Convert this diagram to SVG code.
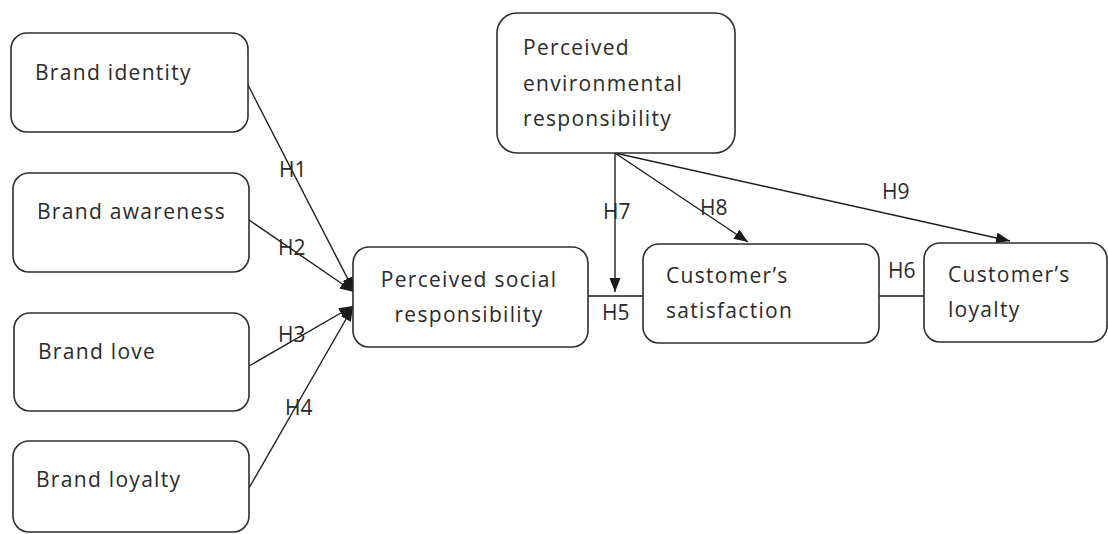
<svg xmlns="http://www.w3.org/2000/svg" width="1108" height="534" viewBox="0 0 1108 534">
<defs>
<marker id="arr" markerUnits="userSpaceOnUse" markerWidth="16" markerHeight="12" refX="14" refY="5.5" orient="auto">
<path d="M0,0 L14,5.5 L0,11 Z" fill="#1a1a1a"/>
</marker>
<style>
.box{fill:#fff;stroke:#2e2e2e;stroke-width:1.6}
.t{font-family:"Open Sans","Liberation Sans",sans-serif;font-size:21px;fill:#2a2a2a;letter-spacing:1.3px}
.h{font-family:"Open Sans","Liberation Sans",sans-serif;font-size:21px;fill:#2a2a2a}
.c{fill:none;stroke:#1e1e1e;stroke-width:1.4}
</style>
</defs>
<rect width="1108" height="534" fill="#fff"/>
<g id="connectors">
<line class="c" x1="248" y1="85" x2="354" y2="291" marker-end="url(#arr)"/>
<line class="c" x1="249" y1="220" x2="354" y2="292" marker-end="url(#arr)"/>
<line class="c" x1="249" y1="366" x2="353" y2="306" marker-end="url(#arr)"/>
<line class="c" x1="249" y1="488" x2="353" y2="307" marker-end="url(#arr)"/>
<line class="c" x1="588" y1="296" x2="643" y2="296"/>
<line class="c" x1="873" y1="296" x2="924" y2="296"/>
<line class="c" x1="615" y1="153" x2="615" y2="292" marker-end="url(#arr)"/>
<line class="c" x1="615" y1="153" x2="748" y2="242" marker-end="url(#arr)"/>
<line class="c" x1="615" y1="153" x2="1010" y2="241" marker-end="url(#arr)"/>
<text class="h" x="279" y="177">H1</text>
<text class="h" x="278" y="255">H2</text>
<text class="h" x="278" y="342">H3</text>
<text class="h" x="285" y="415">H4</text>
<text class="h" x="602" y="320">H5</text>
<text class="h" x="888" y="278">H6</text>
<text class="h" x="603" y="219">H7</text>
<text class="h" x="700" y="215">H8</text>
<text class="h" x="882" y="199">H9</text>
</g>
<g id="brand-identity">
<rect class="box" x="11" y="33" width="237" height="99" rx="16"/>
<text class="t" x="35" y="80">Brand identity</text>
</g>
<g id="brand-awareness">
<rect class="box" x="13" y="173" width="236" height="99" rx="16"/>
<text class="t" x="37" y="219">Brand awareness</text>
</g>
<g id="brand-love">
<rect class="box" x="14" y="313" width="235" height="98" rx="16"/>
<text class="t" x="38" y="359">Brand love</text>
</g>
<g id="brand-loyalty">
<rect class="box" x="13" y="441" width="236" height="91" rx="16"/>
<text class="t" x="36" y="487">Brand loyalty</text>
</g>
<g id="perceived-social">
<rect class="box" x="353" y="247" width="235" height="100" rx="16"/>
<text class="t" x="469" y="287" text-anchor="middle">Perceived social</text>
<text class="t" x="469" y="322" text-anchor="middle">responsibility</text>
</g>
<g id="perceived-environmental">
<rect class="box" x="497" y="13" width="238" height="140" rx="20"/>
<text class="t" x="523" y="55">Perceived</text>
<text class="t" x="523" y="91">environmental</text>
<text class="t" x="523" y="126">responsibility</text>
</g>
<g id="customer-satisfaction">
<rect class="box" x="643" y="244" width="236" height="99" rx="16"/>
<text class="t" x="666" y="283">Customer’s</text>
<text class="t" x="666" y="318">satisfaction</text>
</g>
<g id="customer-loyalty">
<rect class="box" x="924" y="243" width="183" height="99" rx="16"/>
<text class="t" x="948" y="282">Customer’s</text>
<text class="t" x="948" y="317">loyalty</text>
</g>
</svg>
